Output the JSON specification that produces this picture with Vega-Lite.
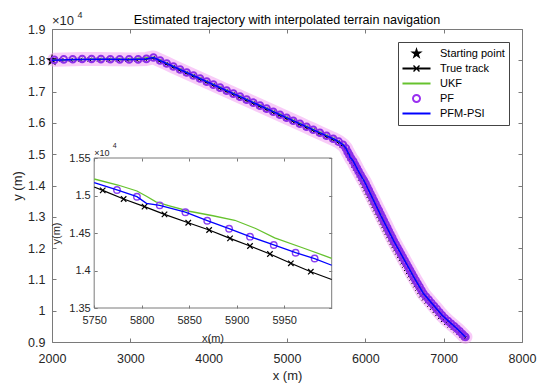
{
  "$schema": "https://vega.github.io/schema/vega-lite/v6.json",
  "width": 470,
  "height": 313,
  "autosize": {"type": "none"},
  "padding": {"left": 52, "top": 29, "right": 28, "bottom": 44},
  "background": "white",
  "title": {"text": "Estimated trajectory with interpolated terrain navigation", "fontSize": 12.6, "fontWeight": "normal", "font": "Liberation Sans", "color": "#000000", "anchor": "middle", "frame": "group", "offset": -16},
  "config": {
    "view": {"stroke": null},
    "font": "Liberation Sans",
    "axis": {"grid": false, "domainColor": "#7a7a7a", "tickColor": "#7a7a7a", "labelColor": "#262626", "titleColor": "#262626", "titleFontWeight": "normal", "labelFont": "Liberation Sans", "titleFont": "Liberation Sans", "labelFlush": false, "labelOverlap": false, "domainWidth": 1, "tickWidth": 1},
    "legend": {"labelFont": "Liberation Sans", "labelFontSize": 11, "symbolSize": 225, "rowPadding": -1.7, "labelOffset": 16, "symbolOffset": 7, "padding": 4}
  },
  "datasets": {
    "track": [
      {"xt":2000,"yt":18000,"xp":2030,"yp":18015},{"xt":2120,"yt":18008,"xp":2150,"yp":18028},{"xt":2240,"yt":18015,"xp":2265,"yp":18035},{"xt":2360,"yt":18020,"xp":2385,"yp":18040},{"xt":2480,"yt":18022,"xp":2505,"yp":18040},{"xt":2600,"yt":18022,"xp":2625,"yp":18038},{"xt":2720,"yt":18020,"xp":2745,"yp":18035},{"xt":2840,"yt":18016,"xp":2865,"yp":18030},{"xt":2960,"yt":18014,"xp":2985,"yp":18028},{"xt":3080,"yt":18016,"xp":3100,"yp":18030},{"xt":3190,"yt":18028,"xp":3205,"yp":18045},{"xt":3285,"yt":18065,"xp":3295,"yp":18090},
      {"xt":3370,"yt":17972,"xp":3380,"yp":17994},{"xt":3455,"yt":17876,"xp":3465,"yp":17898},{"xt":3540,"yt":17778,"xp":3550,"yp":17801},{"xt":3625,"yt":17682,"xp":3635,"yp":17705},{"xt":3710,"yt":17585,"xp":3720,"yp":17609},{"xt":3795,"yt":17490,"xp":3805,"yp":17513},{"xt":3880,"yt":17393,"xp":3890,"yp":17417},{"xt":3965,"yt":17297,"xp":3975,"yp":17320},{"xt":4050,"yt":17200,"xp":4060,"yp":17224},{"xt":4135,"yt":17105,"xp":4145,"yp":17128},{"xt":4220,"yt":17008,"xp":4230,"yp":17032},{"xt":4305,"yt":16912,"xp":4315,"yp":16936},{"xt":4390,"yt":16815,"xp":4400,"yp":16839},{"xt":4475,"yt":16720,"xp":4485,"yp":16743},{"xt":4560,"yt":16623,"xp":4570,"yp":16647},{"xt":4645,"yt":16527,"xp":4655,"yp":16551},{"xt":4730,"yt":16431,"xp":4740,"yp":16455},{"xt":4815,"yt":16334,"xp":4825,"yp":16358},{"xt":4900,"yt":16238,"xp":4910,"yp":16262},{"xt":4985,"yt":16142,"xp":4995,"yp":16166},{"xt":5070,"yt":16046,"xp":5080,"yp":16070},{"xt":5155,"yt":15950,"xp":5165,"yp":15974},{"xt":5240,"yt":15853,"xp":5250,"yp":15877},{"xt":5325,"yt":15757,"xp":5335,"yp":15781},{"xt":5410,"yt":15661,"xp":5420,"yp":15685},{"xt":5495,"yt":15565,"xp":5505,"yp":15589},{"xt":5578,"yt":15468,"xp":5590,"yp":15493},
      {"xt":5645,"yt":15380,"xp":5660,"yp":15400},{"xt":5700,"yt":15275,"xp":5715,"yp":15300},{"xt":5738,"yt":15165,"xp":5752,"yp":15190},
      {"xt":5759,"yt":15069,"xp":5774,"yp":15073},{"xt":5781,"yt":14953,"xp":5795,"yp":14984},{"xt":5803,"yt":14851,"xp":5819,"yp":14869},{"xt":5824,"yt":14749,"xp":5846,"yp":14776},{"xt":5849,"yt":14637,"xp":5869,"yp":14664},{"xt":5871,"yt":14540,"xp":5892,"yp":14557},{"xt":5893,"yt":14429,"xp":5914,"yp":14451},{"xt":5914,"yt":14327,"xp":5939,"yp":14340},{"xt":5935,"yt":14220,"xp":5962,"yp":14237},{"xt":5957,"yt":14096,"xp":5982,"yp":14160},{"xt":5978,"yt":13984,"xp":6003,"yp":14060},
      {"xt":5999,"yt":13877,"xp":6024,"yp":13952},{"xt":6020,"yt":13770,"xp":6045,"yp":13844},{"xt":6041,"yt":13663,"xp":6066,"yp":13736},{"xt":6062,"yt":13556,"xp":6088,"yp":13628},{"xt":6083,"yt":13449,"xp":6109,"yp":13520},{"xt":6104,"yt":13342,"xp":6130,"yp":13412},{"xt":6125,"yt":13235,"xp":6151,"yp":13304},{"xt":6146,"yt":13128,"xp":6173,"yp":13196},{"xt":6167,"yt":13021,"xp":6194,"yp":13088},{"xt":6188,"yt":12914,"xp":6215,"yp":12980},{"xt":6209,"yt":12807,"xp":6236,"yp":12872},{"xt":6230,"yt":12700,"xp":6258,"yp":12764},{"xt":6251,"yt":12593,"xp":6279,"yp":12656},{"xt":6272,"yt":12486,"xp":6300,"yp":12548},{"xt":6293,"yt":12379,"xp":6321,"yp":12440},{"xt":6315,"yt":12273,"xp":6343,"yp":12333},{"xt":6336,"yt":12166,"xp":6364,"yp":12226},
      {"xt":6359,"yt":12062,"xp":6387,"yp":12122},{"xt":6382,"yt":11958,"xp":6410,"yp":12018},{"xt":6405,"yt":11854,"xp":6433,"yp":11914},{"xt":6428,"yt":11750,"xp":6456,"yp":11810},{"xt":6451,"yt":11646,"xp":6479,"yp":11706},{"xt":6474,"yt":11542,"xp":6502,"yp":11602},{"xt":6497,"yt":11438,"xp":6525,"yp":11498},{"xt":6520,"yt":11334,"xp":6548,"yp":11394},{"xt":6543,"yt":11230,"xp":6571,"yp":11290},{"xt":6566,"yt":11126,"xp":6594,"yp":11186},{"xt":6589,"yt":11022,"xp":6617,"yp":11082},{"xt":6614,"yt":10915,"xp":6642,"yp":10975},{"xt":6639,"yt":10808,"xp":6667,"yp":10868},{"xt":6664,"yt":10701,"xp":6692,"yp":10761},{"xt":6689,"yt":10594,"xp":6717,"yp":10654},{"xt":6714,"yt":10487,"xp":6742,"yp":10547},
      {"xt":6748,"yt":10387,"xp":6776,"yp":10447},{"xt":6782,"yt":10287,"xp":6810,"yp":10347},{"xt":6816,"yt":10187,"xp":6844,"yp":10247},{"xt":6850,"yt":10088,"xp":6878,"yp":10148},{"xt":6884,"yt":9989,"xp":6912,"yp":10049},{"xt":6918,"yt":9890,"xp":6946,"yp":9950},{"xt":6952,"yt":9792,"xp":6980,"yp":9852},{"xt":6990,"yt":9700,"xp":7016,"yp":9758},{"xt":7032,"yt":9612,"xp":7056,"yp":9668},{"xt":7074,"yt":9526,"xp":7096,"yp":9580},{"xt":7115,"yt":9447,"xp":7135,"yp":9500},{"xt":7152,"yt":9372,"xp":7170,"yp":9425},{"xt":7190,"yt":9290,"xp":7205,"yp":9340},{"xt":7228,"yt":9205,"xp":7240,"yp":9250},{"xt":7255,"yt":9150,"xp":7265,"yp":9185},{"xt":7270,"yt":9120,"xp":7278,"yp":9160}
    ],
    "mainLines": [
      {"s":"PFM-PSI","x":2000,"y":18000},{"s":"PFM-PSI","x":2300,"y":18028},{"s":"PFM-PSI","x":2700,"y":18036},{"s":"PFM-PSI","x":3000,"y":18028},{"s":"PFM-PSI","x":3200,"y":18042},{"s":"PFM-PSI","x":3295,"y":18088},{"s":"PFM-PSI","x":3500,"y":17858},{"s":"PFM-PSI","x":4000,"y":17292},{"s":"PFM-PSI","x":4500,"y":16728},{"s":"PFM-PSI","x":5000,"y":16162},{"s":"PFM-PSI","x":5500,"y":15595},{"s":"PFM-PSI","x":5590,"y":15493},{"s":"PFM-PSI","x":5660,"y":15400},{"s":"PFM-PSI","x":5715,"y":15300},{"s":"PFM-PSI","x":5752,"y":15190},{"s":"PFM-PSI","x":5774,"y":15075},{"s":"PFM-PSI","x":5795,"y":14985},{"s":"PFM-PSI","x":5805,"y":14895},{"s":"PFM-PSI","x":5819,"y":14868},{"s":"PFM-PSI","x":5846,"y":14778},{"s":"PFM-PSI","x":5869,"y":14666},{"s":"PFM-PSI","x":5892,"y":14558},{"s":"PFM-PSI","x":5914,"y":14452},{"s":"PFM-PSI","x":5939,"y":14342},{"s":"PFM-PSI","x":5962,"y":14238},{"s":"PFM-PSI","x":5982,"y":14158},{"s":"PFM-PSI","x":6000,"y":14070},{"s":"PFM-PSI","x":6200,"y":13030},{"s":"PFM-PSI","x":6364,"y":12226},{"s":"PFM-PSI","x":6617,"y":11082},{"s":"PFM-PSI","x":6742,"y":10547},{"s":"PFM-PSI","x":6980,"y":9852},{"s":"PFM-PSI","x":7170,"y":9425},{"s":"PFM-PSI","x":7278,"y":9160},
      {"s":"UKF","x":2000,"y":18000},{"s":"UKF","x":2500,"y":18045},{"s":"UKF","x":3000,"y":18038},{"s":"UKF","x":3295,"y":18095},{"s":"UKF","x":4000,"y":17300},{"s":"UKF","x":5000,"y":16175},{"s":"UKF","x":5600,"y":15500},{"s":"UKF","x":5700,"y":15345},{"s":"UKF","x":5750,"y":15220},{"s":"UKF","x":5795,"y":15060},{"s":"UKF","x":5815,"y":14915},{"s":"UKF","x":5850,"y":14790},{"s":"UKF","x":5898,"y":14670},{"s":"UKF","x":5940,"y":14435},{"s":"UKF","x":6000,"y":14163},{"s":"UKF","x":6380,"y":12200},{"s":"UKF","x":6630,"y":11090},{"s":"UKF","x":6760,"y":10540},{"s":"UKF","x":7000,"y":9830},{"s":"UKF","x":7170,"y":9440},{"s":"UKF","x":7280,"y":9170}
    ],
    "inset": [
      {"s":"True track","x":5750,"y":15113},{"s":"True track","x":5759,"y":15069},{"s":"True track","x":5781,"y":14953},{"s":"True track","x":5803,"y":14851},{"s":"True track","x":5824,"y":14749},{"s":"True track","x":5849,"y":14637},{"s":"True track","x":5871,"y":14540},{"s":"True track","x":5893,"y":14429},{"s":"True track","x":5914,"y":14327},{"s":"True track","x":5935,"y":14220},{"s":"True track","x":5957,"y":14096},{"s":"True track","x":5978,"y":13984},{"s":"True track","x":6000,"y":13880},
      {"s":"UKF","x":5750,"y":15220},{"s":"UKF","x":5775,"y":15140},{"s":"UKF","x":5795,"y":15060},{"s":"UKF","x":5805,"y":14990},{"s":"UKF","x":5815,"y":14915},{"s":"UKF","x":5830,"y":14860},{"s":"UKF","x":5850,"y":14790},{"s":"UKF","x":5875,"y":14730},{"s":"UKF","x":5898,"y":14670},{"s":"UKF","x":5920,"y":14560},{"s":"UKF","x":5940,"y":14435},{"s":"UKF","x":5970,"y":14300},{"s":"UKF","x":6000,"y":14163},
      {"s":"PF","x":5774,"y":15073},{"s":"PF","x":5795,"y":14984},{"s":"PF","x":5819,"y":14869},{"s":"PF","x":5846,"y":14776},{"s":"PF","x":5869,"y":14664},{"s":"PF","x":5892,"y":14557},{"s":"PF","x":5914,"y":14451},{"s":"PF","x":5939,"y":14340},{"s":"PF","x":5962,"y":14237},{"s":"PF","x":5982,"y":14160},
      {"s":"PFM-PSI","x":5750,"y":15171},{"s":"PFM-PSI","x":5774,"y":15075},{"s":"PFM-PSI","x":5795,"y":14985},{"s":"PFM-PSI","x":5805,"y":14895},{"s":"PFM-PSI","x":5819,"y":14868},{"s":"PFM-PSI","x":5846,"y":14778},{"s":"PFM-PSI","x":5869,"y":14666},{"s":"PFM-PSI","x":5892,"y":14558},{"s":"PFM-PSI","x":5914,"y":14452},{"s":"PFM-PSI","x":5939,"y":14342},{"s":"PFM-PSI","x":5962,"y":14238},{"s":"PFM-PSI","x":5982,"y":14158},{"s":"PFM-PSI","x":6000,"y":14070}
    ]
  },
  "layer": [
    {
      "data": {"name": "track"},
      "layer": [
        {
          "mark": {"type": "line", "color": "#f2a0f2", "strokeWidth": 14, "opacity": 0.55, "strokeCap": "round", "strokeJoin": "round"},
          "encoding": {
            "x": {"field": "xp", "type": "quantitative", "scale": {"domain": [2000, 8000], "nice": false, "zero": false},
              "axis": {"orient": "bottom", "values": [2000,3000,4000,5000,6000,7000,8000], "format": "d", "title": "x (m)", "titleFontSize": 13, "titlePadding": 5, "labelFontSize": 12.5, "labelPadding": 14, "tickSize": -4}},
            "y": {"field": "yp", "type": "quantitative", "scale": {"domain": [9000, 19000], "nice": false, "zero": false},
              "axis": {"orient": "left", "values": [9000,10000,11000,12000,13000,14000,15000,16000,17000,18000,19000], "labelExpr": "format(datum.value/10000, '.2~f')", "title": "y (m)", "titleFontSize": 13, "titlePadding": 3, "labelFontSize": 12.5, "labelPadding": 11, "tickSize": -4}}
          }
        },
        {
          "data": {"values": [{"s": "Starting point", "x": 2000, "y": 18000}]},
          "mark": {"type": "point", "filled": true, "size": 225, "opacity": 1, "strokeWidth": 0},
          "encoding": {
            "x": {"field": "x", "type": "quantitative", "axis": null},
            "y": {"field": "y", "type": "quantitative", "axis": null},
            "color": {"field": "s", "type": "nominal",
              "scale": {"domain": ["Starting point", "True track", "UKF", "PF", "PFM-PSI"], "range": ["#000000", "#000000", "#66c22e", "#9a30f0", "#0000ff"]},
              "legend": {"title": null, "orient": "top-right", "offset": 13, "padding": 4, "strokeColor": "#444444", "fillColor": "white", "labelFontSize": 11, "labelColor": "#000000", "symbolSize": 225, "rowPadding": -1.7, "labelOffset": 16, "symbolOffset": 7, "symbolStrokeWidth": 0, "symbolOpacity": 1, "columns": 1, "direction": "vertical", "labelAlign": "left"}},
            "shape": {"field": "s", "type": "nominal",
              "scale": {"domain": ["Starting point", "True track", "UKF", "PF", "PFM-PSI"], "range": [
                "M-2,-1M2,1M0,-0.867L0.195,-0.268L0.825,-0.268L0.316,0.102L0.51,0.701L0,0.331L-0.51,0.701L-0.316,0.102L-0.825,-0.268L-0.195,-0.268Z",
                "M-2,-1M2,1M-1.87,-0.12L1.87,-0.12L1.87,0.12L-1.87,0.12ZM-0.466,-0.334L-0.334,-0.466L0.466,0.334L0.334,0.466ZM-0.466,0.334L0.334,-0.466L0.466,-0.334L-0.334,0.466Z",
                "M-2,-1M2,1M-1.87,-0.133L1.87,-0.133L1.87,0.133L-1.87,0.133Z",
                "M-2,-1M2,1M0.6,0L0.554,0.23L0.424,0.424L0.23,0.554L0,0.6L-0.23,0.554L-0.424,0.424L-0.554,0.23L-0.6,0L-0.554,-0.23L-0.424,-0.424L-0.23,-0.554L0,-0.6L0.23,-0.554L0.424,-0.424L0.554,-0.23ZM0.34,0L0.314,-0.13L0.24,-0.24L0.13,-0.314L0,-0.34L-0.13,-0.314L-0.24,-0.24L-0.314,-0.13L-0.34,0L-0.314,0.13L-0.24,0.24L-0.13,0.314L0,0.34L0.13,0.314L0.24,0.24L0.314,0.13Z",
                "M-2,-1M2,1M-1.87,-0.133L1.87,-0.133L1.87,0.133L-1.87,0.133Z"]},
              "legend": {"title": null, "orient": "top-right", "offset": 13, "padding": 4, "strokeColor": "#444444", "fillColor": "white", "labelFontSize": 11, "labelColor": "#000000", "symbolSize": 225, "rowPadding": -1.7, "labelOffset": 16, "symbolOffset": 7, "symbolStrokeWidth": 0, "symbolOpacity": 1, "columns": 1, "direction": "vertical", "labelAlign": "left"}}
          }
        },
        {
          "mark": {"type": "line", "color": "#000000", "strokeWidth": 1},
          "encoding": {
            "x": {"field": "xt", "type": "quantitative", "axis": {"orient": "top", "values": [2000,3000,4000,5000,6000,7000,8000], "labels": false, "title": null, "tickSize": -4}},
            "y": {"field": "yt", "type": "quantitative", "axis": {"orient": "right", "values": [9000,10000,11000,12000,13000,14000,15000,16000,17000,18000,19000], "labels": false, "title": null, "tickSize": -4}}
          }
        },
        {
          "mark": {"type": "point", "shape": "M-1,-1L1,1M-1,1L1,-1", "size": 16, "color": "#000000", "strokeWidth": 1, "filled": false, "opacity": 1},
          "encoding": {
            "x": {"field": "xt", "type": "quantitative", "axis": null},
            "y": {"field": "yt", "type": "quantitative", "axis": null}
          }
        },
        {
          "data": {"name": "mainLines"},
          "transform": [{"filter": "datum.s === 'UKF'"}],
          "mark": {"type": "line", "color": "#66c22e", "strokeWidth": 1.5},
          "encoding": {
            "x": {"field": "x", "type": "quantitative", "axis": null},
            "y": {"field": "y", "type": "quantitative", "axis": null}
          }
        },
        {
          "mark": {"type": "point", "shape": "circle", "size": 44, "color": "#8c2ee8", "strokeWidth": 2, "filled": false, "opacity": 1},
          "encoding": {
            "x": {"field": "xp", "type": "quantitative", "axis": null},
            "y": {"field": "yp", "type": "quantitative", "axis": null}
          }
        },
        {
          "data": {"name": "mainLines"},
          "transform": [{"filter": "datum.s === 'PFM-PSI'"}],
          "mark": {"type": "line", "color": "#0000ff", "strokeWidth": 1.5},
          "encoding": {
            "x": {"field": "x", "type": "quantitative", "axis": null},
            "y": {"field": "y", "type": "quantitative", "axis": null}
          }
        },
        {
          "data": {"values": [{"t": "×10"}]},
          "mark": {"type": "text", "align": "left", "baseline": "alphabetic", "dy": -4, "fontSize": 13, "color": "#262626"},
          "encoding": {
            "x": {"datum": 2000, "type": "quantitative", "axis": null},
            "y": {"datum": 19000, "type": "quantitative", "axis": null},
            "text": {"field": "t"}
          }
        },
        {
          "data": {"values": [{"t": "4"}]},
          "mark": {"type": "text", "align": "left", "baseline": "alphabetic", "dx": 25.5, "dy": -11.5, "fontSize": 9, "color": "#262626"},
          "encoding": {
            "x": {"datum": 2000, "type": "quantitative", "axis": null},
            "y": {"datum": 19000, "type": "quantitative", "axis": null},
            "text": {"field": "t"}
          }
        }
      ]
    },
    {
      "data": {"name": "inset"},
      "layer": [
        {
          "data": {"values": [{}]},
          "mark": {"type": "rect", "fill": "white", "stroke": "#7a7a7a", "strokeWidth": 1},
          "encoding": {
            "x": {"datum": 5750, "type": "quantitative", "scale": {"domain": [5705.6, 6200.3], "nice": false, "zero": false},
              "axis": {"orient": "top", "offset": -129, "values": [5750,5800,5850,5900,5950], "labels": false, "title": null, "domain": false, "tickSize": -3, "zindex": 1}},
            "x2": {"datum": 6000},
            "y": {"datum": 13500, "type": "quantitative", "scale": {"domain": [13046.7, 17220], "nice": false, "zero": false},
              "axis": {"orient": "right", "offset": -190.3, "values": [13500,14000,14500,15000,15500], "labels": false, "title": null, "domain": false, "tickSize": -3, "zindex": 1}},
            "y2": {"datum": 15500}
          }
        },
        {
          "transform": [{"filter": "datum.s === 'True track'"}],
          "mark": {"type": "line", "color": "#000000", "strokeWidth": 1.2},
          "encoding": {
            "x": {"field": "x", "type": "quantitative",
              "axis": {"orient": "bottom", "offset": -34, "values": [5750,5800,5850,5900,5950], "format": "d", "title": "x(m)", "titleFontSize": 11, "titleX": 160.5, "titleY": 30, "titleBaseline": "middle", "titleAlign": "center", "labelFontSize": 11, "labelPadding": 9, "tickSize": -3, "domain": false, "zindex": 1}},
            "y": {"field": "y", "type": "quantitative",
              "axis": {"orient": "left", "offset": -42.2, "values": [13500,14000,14500,15000,15500], "labelExpr": "format(datum.value/10000, '.2~f')", "title": "y(m)", "titleFontSize": 11, "titleX": -37.2, "titleY": 204, "titleBaseline": "middle", "titleAlign": "center", "titleAngle": 270, "labelFontSize": 11, "labelPadding": 7, "tickSize": -3, "domain": false, "zindex": 1}}
          }
        },
        {
          "transform": [{"filter": "datum.s === 'True track' && datum.x > 5750 && datum.x < 6000"}],
          "mark": {"type": "point", "shape": "M-1,-1L1,1M-1,1L1,-1", "size": 30, "color": "#000000", "strokeWidth": 1.2, "filled": false, "opacity": 1},
          "encoding": {
            "x": {"field": "x", "type": "quantitative", "axis": null},
            "y": {"field": "y", "type": "quantitative", "axis": null}
          }
        },
        {
          "transform": [{"filter": "datum.s === 'UKF'"}],
          "mark": {"type": "line", "color": "#66c22e", "strokeWidth": 1.3},
          "encoding": {
            "x": {"field": "x", "type": "quantitative", "axis": null},
            "y": {"field": "y", "type": "quantitative", "axis": null}
          }
        },
        {
          "transform": [{"filter": "datum.s === 'PF'"}],
          "mark": {"type": "point", "shape": "circle", "size": 42, "color": "#8a3ff0", "strokeWidth": 1.4, "filled": false, "opacity": 1},
          "encoding": {
            "x": {"field": "x", "type": "quantitative", "axis": null},
            "y": {"field": "y", "type": "quantitative", "axis": null}
          }
        },
        {
          "transform": [{"filter": "datum.s === 'PFM-PSI'"}],
          "mark": {"type": "line", "color": "#0000ff", "strokeWidth": 1.3},
          "encoding": {
            "x": {"field": "x", "type": "quantitative", "axis": null},
            "y": {"field": "y", "type": "quantitative", "axis": null}
          }
        },
        {
          "data": {"values": [{"t": "×10"}]},
          "mark": {"type": "text", "align": "left", "baseline": "alphabetic", "dy": -2.5, "fontSize": 9, "color": "#262626"},
          "encoding": {
            "x": {"datum": 5750, "type": "quantitative", "axis": null},
            "y": {"datum": 15500, "type": "quantitative", "axis": null},
            "text": {"field": "t"}
          }
        },
        {
          "data": {"values": [{"t": "4"}]},
          "mark": {"type": "text", "align": "left", "baseline": "alphabetic", "dx": 18.5, "dy": -10, "fontSize": 7, "color": "#262626"},
          "encoding": {
            "x": {"datum": 5750, "type": "quantitative", "axis": null},
            "y": {"datum": 15500, "type": "quantitative", "axis": null},
            "text": {"field": "t"}
          }
        }
      ]
    }
  ],
  "resolve": {"scale": {"x": "independent", "y": "independent"}}
}
